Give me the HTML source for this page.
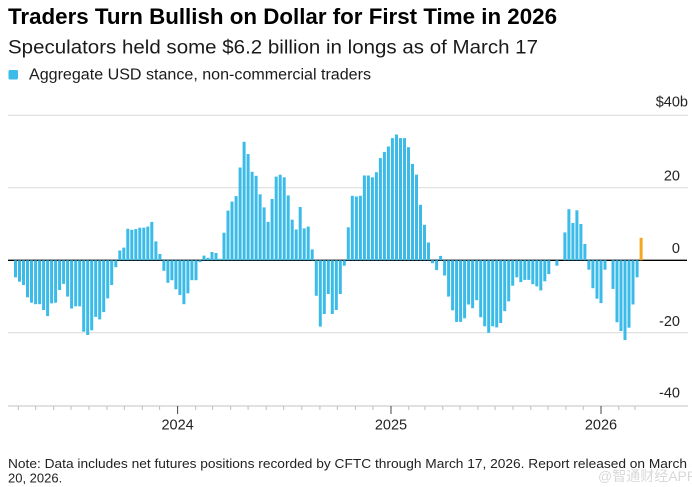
<!DOCTYPE html>
<html><head><meta charset="utf-8"><style>
html,body{margin:0;padding:0;background:#fff;}
svg{display:block;}
</style></head><body>
<svg width="692" height="487" viewBox="0 0 692 487" xmlns="http://www.w3.org/2000/svg" font-family="'Liberation Sans', 'Noto Sans CJK SC', sans-serif">
<rect width="692" height="487" fill="#fff"/>
<text x="8" y="24" font-size="22" font-weight="bold" fill="#000" textLength="549" lengthAdjust="spacingAndGlyphs">Traders Turn Bullish on Dollar for First Time in 2026</text>
<text x="8" y="53.3" font-size="19.5" fill="#1a1a1a" textLength="530" lengthAdjust="spacingAndGlyphs">Speculators held some $6.2 billion in longs as of March 17</text>
<rect x="8.5" y="70" width="9.5" height="9.5" rx="1.5" fill="#3bbbe8"/>
<text x="29" y="79.5" font-size="15.5" fill="#1a1a1a" textLength="342" lengthAdjust="spacingAndGlyphs">Aggregate USD stance, non-commercial traders</text>

<!-- gridlines -->
<g stroke="#d9d9d9" stroke-width="1">
<line x1="8" y1="115.3" x2="688" y2="115.3"/>
<line x1="8" y1="187.8" x2="688" y2="187.8"/>
<line x1="8" y1="332.8" x2="688" y2="332.8"/>
</g>
<!-- y labels -->
<g font-size="14.5" fill="#222" text-anchor="end">
<text x="688" y="106.7">$40b</text>
<text x="680" y="180.5">20</text>
<text x="680" y="253">0</text>
<text x="680" y="326">-20</text>
<text x="680" y="397.5">-40</text>
</g>
<!-- zero line -->
<line x1="8" y1="260.3" x2="687" y2="260.3" stroke="#000" stroke-width="1.3"/>

<!-- bars -->
<g fill="#3bbbe8">
<rect x="14.0" y="260.3" width="3" height="17.0"/>
<rect x="18.0" y="260.3" width="3" height="21.4"/>
<rect x="22.0" y="260.3" width="3" height="24.7"/>
<rect x="26.0" y="260.3" width="3" height="37.0"/>
<rect x="30.0" y="260.3" width="3" height="42.4"/>
<rect x="34.1" y="260.3" width="3" height="43.9"/>
<rect x="38.1" y="260.3" width="3" height="43.9"/>
<rect x="42.1" y="260.3" width="3" height="49.7"/>
<rect x="46.1" y="260.3" width="3" height="55.8"/>
<rect x="50.1" y="260.3" width="3" height="43.1"/>
<rect x="54.1" y="260.3" width="3" height="42.4"/>
<rect x="58.1" y="260.3" width="3" height="29.7"/>
<rect x="62.1" y="260.3" width="3" height="23.6"/>
<rect x="66.1" y="260.3" width="3" height="36.3"/>
<rect x="70.1" y="260.3" width="3" height="48.2"/>
<rect x="74.2" y="260.3" width="3" height="46.0"/>
<rect x="78.2" y="260.3" width="3" height="46.0"/>
<rect x="82.2" y="260.3" width="3" height="71.4"/>
<rect x="86.2" y="260.3" width="3" height="74.7"/>
<rect x="90.2" y="260.3" width="3" height="70.0"/>
<rect x="94.2" y="260.3" width="3" height="56.6"/>
<rect x="98.2" y="260.3" width="3" height="59.1"/>
<rect x="102.2" y="260.3" width="3" height="51.8"/>
<rect x="106.2" y="260.3" width="3" height="38.1"/>
<rect x="110.2" y="260.3" width="3" height="24.7"/>
<rect x="114.3" y="260.3" width="3" height="6.9"/>
<rect x="118.3" y="250.5" width="3" height="9.8"/>
<rect x="122.3" y="247.6" width="3" height="12.7"/>
<rect x="126.3" y="228.8" width="3" height="31.5"/>
<rect x="130.3" y="229.8" width="3" height="30.5"/>
<rect x="134.3" y="229.1" width="3" height="31.2"/>
<rect x="138.3" y="227.7" width="3" height="32.6"/>
<rect x="142.3" y="227.7" width="3" height="32.6"/>
<rect x="146.3" y="226.6" width="3" height="33.7"/>
<rect x="150.3" y="221.9" width="3" height="38.4"/>
<rect x="154.4" y="241.4" width="3" height="18.9"/>
<rect x="158.4" y="254.0" width="3" height="6.3"/>
<rect x="162.4" y="260.3" width="3" height="10.5"/>
<rect x="166.4" y="260.3" width="3" height="22.5"/>
<rect x="170.4" y="260.3" width="3" height="19.9"/>
<rect x="174.4" y="260.3" width="3" height="29.0"/>
<rect x="178.4" y="260.3" width="3" height="34.8"/>
<rect x="182.4" y="260.3" width="3" height="43.9"/>
<rect x="186.4" y="260.3" width="3" height="33.0"/>
<rect x="190.4" y="260.3" width="3" height="19.9"/>
<rect x="194.5" y="260.3" width="3" height="19.9"/>
<rect x="198.5" y="260.3" width="3" height="1.8"/>
<rect x="202.5" y="255.6" width="3" height="4.7"/>
<rect x="206.5" y="257.8" width="3" height="2.5"/>
<rect x="210.5" y="252.0" width="3" height="8.3"/>
<rect x="214.5" y="253.0" width="3" height="7.3"/>
<rect x="218.5" y="258.8" width="3" height="1.5"/>
<rect x="222.5" y="232.7" width="3" height="27.6"/>
<rect x="226.5" y="210.6" width="3" height="49.7"/>
<rect x="230.5" y="201.6" width="3" height="58.7"/>
<rect x="234.6" y="196.1" width="3" height="64.2"/>
<rect x="238.6" y="167.5" width="3" height="92.8"/>
<rect x="242.6" y="141.8" width="3" height="118.5"/>
<rect x="246.6" y="154.1" width="3" height="106.2"/>
<rect x="250.6" y="171.8" width="3" height="88.5"/>
<rect x="254.6" y="175.8" width="3" height="84.5"/>
<rect x="258.6" y="194.3" width="3" height="66.0"/>
<rect x="262.6" y="207.4" width="3" height="52.9"/>
<rect x="266.6" y="221.9" width="3" height="38.4"/>
<rect x="270.6" y="199.0" width="3" height="61.3"/>
<rect x="274.7" y="176.6" width="3" height="83.7"/>
<rect x="278.7" y="174.7" width="3" height="85.6"/>
<rect x="282.7" y="177.3" width="3" height="83.0"/>
<rect x="286.7" y="195.4" width="3" height="64.9"/>
<rect x="290.7" y="219.7" width="3" height="40.6"/>
<rect x="294.7" y="229.5" width="3" height="30.8"/>
<rect x="298.7" y="207.0" width="3" height="53.3"/>
<rect x="302.7" y="228.4" width="3" height="31.9"/>
<rect x="306.7" y="226.6" width="3" height="33.7"/>
<rect x="310.7" y="249.4" width="3" height="10.9"/>
<rect x="314.8" y="260.3" width="3" height="35.5"/>
<rect x="318.8" y="260.3" width="3" height="66.3"/>
<rect x="322.8" y="260.3" width="3" height="53.7"/>
<rect x="326.8" y="260.3" width="3" height="33.7"/>
<rect x="330.8" y="260.3" width="3" height="53.7"/>
<rect x="334.8" y="260.3" width="3" height="49.7"/>
<rect x="338.8" y="260.3" width="3" height="33.7"/>
<rect x="342.8" y="260.3" width="3" height="5.4"/>
<rect x="346.8" y="227.3" width="3" height="33.0"/>
<rect x="350.8" y="195.8" width="3" height="64.5"/>
<rect x="354.9" y="196.5" width="3" height="63.8"/>
<rect x="358.9" y="195.8" width="3" height="64.5"/>
<rect x="362.9" y="175.5" width="3" height="84.8"/>
<rect x="366.9" y="175.5" width="3" height="84.8"/>
<rect x="370.9" y="177.3" width="3" height="83.0"/>
<rect x="374.9" y="172.2" width="3" height="88.1"/>
<rect x="378.9" y="158.1" width="3" height="102.2"/>
<rect x="382.9" y="151.9" width="3" height="108.4"/>
<rect x="386.9" y="146.5" width="3" height="113.8"/>
<rect x="390.9" y="138.1" width="3" height="122.2"/>
<rect x="395.0" y="134.5" width="3" height="125.8"/>
<rect x="399.0" y="138.1" width="3" height="122.2"/>
<rect x="403.0" y="138.1" width="3" height="122.2"/>
<rect x="407.0" y="147.2" width="3" height="113.1"/>
<rect x="411.0" y="163.9" width="3" height="96.4"/>
<rect x="415.0" y="174.7" width="3" height="85.6"/>
<rect x="419.0" y="204.8" width="3" height="55.5"/>
<rect x="423.0" y="224.8" width="3" height="35.5"/>
<rect x="427.0" y="242.5" width="3" height="17.8"/>
<rect x="431.0" y="260.3" width="3" height="2.9"/>
<rect x="435.1" y="260.3" width="3" height="9.8"/>
<rect x="439.1" y="255.9" width="3" height="4.4"/>
<rect x="443.1" y="260.3" width="3" height="15.2"/>
<rect x="447.1" y="260.3" width="3" height="36.3"/>
<rect x="451.1" y="260.3" width="3" height="50.0"/>
<rect x="455.1" y="260.3" width="3" height="61.6"/>
<rect x="459.1" y="260.3" width="3" height="61.6"/>
<rect x="463.1" y="260.3" width="3" height="58.0"/>
<rect x="467.1" y="260.3" width="3" height="44.2"/>
<rect x="471.1" y="260.3" width="3" height="47.9"/>
<rect x="475.2" y="260.3" width="3" height="39.9"/>
<rect x="479.2" y="260.3" width="3" height="56.9"/>
<rect x="483.2" y="260.3" width="3" height="66.0"/>
<rect x="487.2" y="260.3" width="3" height="72.5"/>
<rect x="491.2" y="260.3" width="3" height="66.0"/>
<rect x="495.2" y="260.3" width="3" height="67.1"/>
<rect x="499.2" y="260.3" width="3" height="62.7"/>
<rect x="503.2" y="260.3" width="3" height="50.8"/>
<rect x="507.2" y="260.3" width="3" height="41.0"/>
<rect x="511.2" y="260.3" width="3" height="25.4"/>
<rect x="515.3" y="260.3" width="3" height="17.0"/>
<rect x="519.3" y="260.3" width="3" height="21.8"/>
<rect x="523.3" y="260.3" width="3" height="19.6"/>
<rect x="527.3" y="260.3" width="3" height="19.6"/>
<rect x="531.3" y="260.3" width="3" height="23.9"/>
<rect x="535.3" y="260.3" width="3" height="26.1"/>
<rect x="539.3" y="260.3" width="3" height="30.1"/>
<rect x="543.3" y="260.3" width="3" height="21.0"/>
<rect x="547.3" y="260.3" width="3" height="13.8"/>
<rect x="555.4" y="260.3" width="3" height="5.4"/>
<rect x="563.4" y="232.4" width="3" height="27.9"/>
<rect x="567.4" y="209.2" width="3" height="51.1"/>
<rect x="571.4" y="223.0" width="3" height="37.3"/>
<rect x="575.4" y="210.3" width="3" height="50.0"/>
<rect x="579.4" y="224.0" width="3" height="36.3"/>
<rect x="583.4" y="244.0" width="3" height="16.3"/>
<rect x="587.4" y="260.3" width="3" height="9.4"/>
<rect x="591.4" y="260.3" width="3" height="27.9"/>
<rect x="595.5" y="260.3" width="3" height="38.4"/>
<rect x="599.5" y="260.3" width="3" height="42.8"/>
<rect x="603.5" y="260.3" width="3" height="9.4"/>
<rect x="611.5" y="260.3" width="3" height="28.6"/>
<rect x="615.5" y="260.3" width="3" height="62.0"/>
<rect x="619.5" y="260.3" width="3" height="70.7"/>
<rect x="623.5" y="260.3" width="3" height="79.8"/>
<rect x="627.5" y="260.3" width="3" height="67.4"/>
<rect x="631.5" y="260.3" width="3" height="44.2"/>
<rect x="635.6" y="260.3" width="3" height="17.0"/>
</g>
<rect x="639.6" y="237.8" width="3" height="22.5" fill="#f5a623"/>

<!-- x axis -->
<line x1="8" y1="406" x2="688" y2="406" stroke="#cfcfcf" stroke-width="1.2"/>
<g stroke="#bdbdbd" stroke-width="1">
<line x1="18.3" y1="406" x2="18.3" y2="410"/>
<line x1="35.7" y1="406" x2="35.7" y2="410"/>
<line x1="53.7" y1="406" x2="53.7" y2="410"/>
<line x1="71.0" y1="406" x2="71.0" y2="410"/>
<line x1="89.0" y1="406" x2="89.0" y2="410"/>
<line x1="106.9" y1="406" x2="106.9" y2="410"/>
<line x1="124.3" y1="406" x2="124.3" y2="410"/>
<line x1="142.3" y1="406" x2="142.3" y2="410"/>
<line x1="159.6" y1="406" x2="159.6" y2="410"/>
<line x1="195.7" y1="406" x2="195.7" y2="410"/>
<line x1="212.6" y1="406" x2="212.6" y2="410"/>
<line x1="230.7" y1="406" x2="230.7" y2="410"/>
<line x1="248.1" y1="406" x2="248.1" y2="410"/>
<line x1="266.2" y1="406" x2="266.2" y2="410"/>
<line x1="283.7" y1="406" x2="283.7" y2="410"/>
<line x1="301.8" y1="406" x2="301.8" y2="410"/>
<line x1="319.9" y1="406" x2="319.9" y2="410"/>
<line x1="337.3" y1="406" x2="337.3" y2="410"/>
<line x1="355.4" y1="406" x2="355.4" y2="410"/>
<line x1="372.9" y1="406" x2="372.9" y2="410"/>
<line x1="408.8" y1="406" x2="408.8" y2="410"/>
<line x1="424.9" y1="406" x2="424.9" y2="410"/>
<line x1="442.8" y1="406" x2="442.8" y2="410"/>
<line x1="460.0" y1="406" x2="460.0" y2="410"/>
<line x1="477.9" y1="406" x2="477.9" y2="410"/>
<line x1="495.1" y1="406" x2="495.1" y2="410"/>
<line x1="513.0" y1="406" x2="513.0" y2="410"/>
<line x1="530.8" y1="406" x2="530.8" y2="410"/>
<line x1="548.1" y1="406" x2="548.1" y2="410"/>
<line x1="565.9" y1="406" x2="565.9" y2="410"/>
<line x1="583.2" y1="406" x2="583.2" y2="410"/>
<line x1="618.8" y1="406" x2="618.8" y2="410"/>
<line x1="634.9" y1="406" x2="634.9" y2="410"/>
</g>
<g stroke="#444" stroke-width="1">
<line x1="177.6" y1="406" x2="177.6" y2="414"/>
<line x1="391" y1="406" x2="391" y2="414"/>
<line x1="601" y1="406" x2="601" y2="414"/>
</g>
<g font-size="14.5" fill="#222" text-anchor="middle">
<text x="177.6" y="429.5">2024</text>
<text x="391" y="429.5">2025</text>
<text x="601" y="429.5">2026</text>
</g>

<!-- footnote -->
<text x="8" y="468" font-size="13" fill="#222" textLength="679" lengthAdjust="spacingAndGlyphs">Note: Data includes net futures positions recorded by CFTC through March 17, 2026. Report released on March</text>
<text x="8" y="482.5" font-size="13" fill="#222">20, 2026.</text>
<text x="598" y="481" font-size="14" fill="#bfbfbf" opacity="0.6">@智通财经APP</text>
</svg>
</body></html>
